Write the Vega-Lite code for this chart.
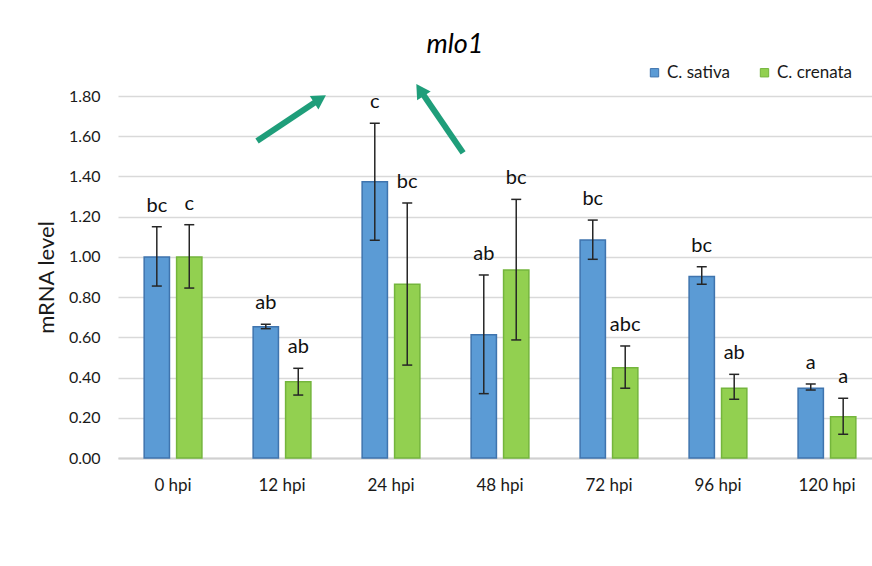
{
  "$schema": "https://vega.github.io/schema/vega-lite/v6.json",
  "width": 754,
  "height": 362,
  "autosize": {"type": "none"},
  "padding": {"left": 118, "top": 96, "right": 0, "bottom": 108},
  "background": "white",
  "config": {"view": {"stroke": null}, "font": "Lato", "axis": {"labelFont": "Lato", "titleFont": "Lato"}, "legend": {"labelFont": "Lato"}},
  "title": {"text": "mlo1", "font": "Lato", "fontStyle": "italic", "fontSize": 27, "fontWeight": "normal", "color": "#000000", "dx": -40, "dy": 33, "offset": 38, "anchor": "middle"},
  "datasets": {
    "bars": [
      {"time": "0 hpi", "species": "C. sativa", "mean": 1.0, "lo": 0.855, "hi": 1.15, "letter": "bc"},
      {"time": "0 hpi", "species": "C. crenata", "mean": 1.0, "lo": 0.845, "hi": 1.16, "letter": "c"},
      {"time": "12 hpi", "species": "C. sativa", "mean": 0.653, "lo": 0.643, "hi": 0.665, "letter": "ab"},
      {"time": "12 hpi", "species": "C. crenata", "mean": 0.379, "lo": 0.313, "hi": 0.446, "letter": "ab"},
      {"time": "24 hpi", "species": "C. sativa", "mean": 1.374, "lo": 1.083, "hi": 1.665, "letter": "c"},
      {"time": "24 hpi", "species": "C. crenata", "mean": 0.864, "lo": 0.462, "hi": 1.268, "letter": "bc"},
      {"time": "48 hpi", "species": "C. sativa", "mean": 0.613, "lo": 0.32, "hi": 0.91, "letter": "ab"},
      {"time": "48 hpi", "species": "C. crenata", "mean": 0.935, "lo": 0.587, "hi": 1.286, "letter": "bc"},
      {"time": "72 hpi", "species": "C. sativa", "mean": 1.084, "lo": 0.988, "hi": 1.183, "letter": "bc"},
      {"time": "72 hpi", "species": "C. crenata", "mean": 0.449, "lo": 0.347, "hi": 0.557, "letter": "abc"},
      {"time": "96 hpi", "species": "C. sativa", "mean": 0.902, "lo": 0.864, "hi": 0.951, "letter": "bc"},
      {"time": "96 hpi", "species": "C. crenata", "mean": 0.347, "lo": 0.292, "hi": 0.416, "letter": "ab"},
      {"time": "120 hpi", "species": "C. sativa", "mean": 0.347, "lo": 0.338, "hi": 0.368, "letter": "a"},
      {"time": "120 hpi", "species": "C. crenata", "mean": 0.205, "lo": 0.118, "hi": 0.297, "letter": "a"}
    ],
    "arrows": [
      {"x": 1.274, "y": 1.576, "x2": 1.851, "y2": 1.785, "angle": 57.7},
      {"x": 3.162, "y": 1.517, "x2": 2.768, "y2": 1.83, "angle": 327}
    ]
  },
  "layer": [
    {
      "data": {"name": "bars"},
      "encoding": {
        "x": {
          "field": "time", "type": "nominal",
          "sort": ["0 hpi", "12 hpi", "24 hpi", "48 hpi", "72 hpi", "96 hpi", "120 hpi"],
          "scale": {"range": [0, 764], "paddingInner": 0.47, "paddingOuter": 0.24},
          "axis": {"title": null, "labelAngle": 0, "labelFontSize": 17, "labelColor": "#1a1a1a", "labelPadding": 19, "ticks": false, "domainColor": "#d0d0d0", "domainWidth": 2, "grid": false}
        },
        "xOffset": {"field": "species", "type": "nominal", "sort": ["C. sativa", "C. crenata"], "scale": {"paddingInner": 0.22}}
      },
      "layer": [
        {
          "mark": {"type": "bar", "strokeWidth": 1.5},
          "encoding": {
            "y": {
              "field": "mean", "type": "quantitative",
              "scale": {"domain": [0, 1.8], "nice": false},
              "axis": {"values": [0, 0.2, 0.4, 0.6, 0.8, 1.0, 1.2, 1.4, 1.6, 1.8], "format": ".2f", "grid": true, "gridColor": "#d9d9d9", "gridWidth": 1.5, "domain": false, "ticks": false, "labelPadding": 18, "labelFontSize": 16, "labelColor": "#1a1a1a", "title": "mRNA level", "titleFontSize": 22, "titleFontWeight": "normal", "titleColor": "#1a1a1a", "titlePadding": 10}
            },
            "fill": {
              "field": "species", "type": "nominal",
              "scale": {"domain": ["C. sativa", "C. crenata"], "range": ["#5B9BD5", "#92D050"]},
              "legend": {"orient": "none", "legendX": 528, "legendY": -32, "direction": "horizontal", "title": null, "symbolType": "square", "symbolSize": 70, "labelFontSize": 17, "labelColor": "#1a1a1a", "columnPadding": 26, "symbolStrokeWidth": 1}
            },
            "stroke": {
              "field": "species", "type": "nominal",
              "scale": {"domain": ["C. sativa", "C. crenata"], "range": ["#3F74AE", "#74B53C"]},
              "legend": {"orient": "none", "legendX": 528, "legendY": -32, "direction": "horizontal", "title": null, "symbolType": "square", "symbolSize": 70, "labelFontSize": 17, "labelColor": "#1a1a1a", "columnPadding": 26, "symbolStrokeWidth": 1}
            }
          }
        },
        {
          "mark": {"type": "rule", "color": "#262626", "strokeWidth": 1.5},
          "encoding": {"y": {"field": "lo", "type": "quantitative"}, "y2": {"field": "hi"}}
        },
        {
          "mark": {"type": "tick", "orient": "horizontal", "color": "#262626", "size": 10, "thickness": 1.5, "opacity": 1},
          "encoding": {"y": {"field": "hi", "type": "quantitative"}}
        },
        {
          "mark": {"type": "tick", "orient": "horizontal", "color": "#262626", "size": 10, "thickness": 1.5, "opacity": 1},
          "encoding": {"y": {"field": "lo", "type": "quantitative"}}
        },
        {
          "mark": {"type": "text", "baseline": "alphabetic", "dy": -15, "fontSize": 20, "color": "#111111", "font": "Lato"},
          "encoding": {"y": {"field": "hi", "type": "quantitative"}, "text": {"field": "letter"}}
        }
      ]
    },
    {
      "data": {"name": "arrows"},
      "encoding": {
        "x": {"field": "x", "type": "quantitative", "scale": {"domain": [0, 7], "range": [0, 764]}, "axis": null}
      },
      "layer": [
        {
          "mark": {"type": "rule", "color": "#1F9E7A", "strokeWidth": 6},
          "encoding": {
            "y": {"field": "y", "type": "quantitative"},
            "x2": {"field": "x2"},
            "y2": {"field": "y2"}
          }
        },
        {
          "mark": {"type": "point", "shape": "triangle-up", "filled": true, "color": "#1F9E7A", "size": 260, "opacity": 1},
          "encoding": {
            "x": {"field": "x2", "type": "quantitative"},
            "y": {"field": "y2", "type": "quantitative"},
            "angle": {"field": "angle", "type": "quantitative", "scale": null}
          }
        }
      ]
    }
  ],
  "resolve": {"scale": {"x": "independent"}}
}
